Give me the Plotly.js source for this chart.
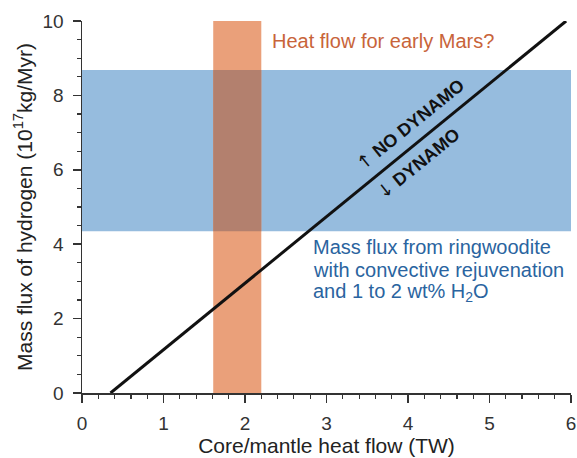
<!DOCTYPE html>
<html>
<head>
<meta charset="utf-8">
<script src="https://cdn.plot.ly/plotly-3.0.1.min.js"></script>
<style>html,body{margin:0;padding:0;background:#fff;}#chart{width:577px;height:458px;}</style>
</head>
<body>
<div id="chart"></div>
<script>
// Threshold line (core/mantle heat flow TW vs. hydrogen mass flux)
const lineX = [0.35, 5.94];
const lineY = [0, 10];
// Blue band: mass flux from ringwoodite (y range)
const massFluxBand = [4.35, 8.68];
// Orange band: heat flow for early Mars (x range)
const heatFlowBand = [1.61, 2.20];
const xRange = [0, 6];
const yRange = [0, 10];
const blueLines = ['Mass flux from ringwoodite', 'with convective rejuvenation', 'and 1 to 2 wt% H<sub>2</sub>O'];
const blueLineY = [3.92, 3.31, 2.69];

const FONT = 'Liberation Sans, Arial, sans-serif';
const ARROW = (a) => '<span style="font-family:DejaVu Sans;font-weight:normal">' + a + '</span>';

const traces = [{
  x: lineX, y: lineY, type: 'scatter', mode: 'lines',
  line: {color: '#111111', width: 3}, hoverinfo: 'skip', showlegend: false
}];

const shapes = [
  {type: 'rect', xref: 'x', yref: 'y', x0: xRange[0], x1: xRange[1],
   y0: massFluxBand[0], y1: massFluxBand[1], fillcolor: '#96BCDE', line: {width: 0}, layer: 'below'},
  {type: 'rect', xref: 'x', yref: 'y', x0: heatFlowBand[0], x1: heatFlowBand[1],
   y0: yRange[0], y1: yRange[1], fillcolor: '#EAA07A', line: {width: 0}, layer: 'below'},
  {type: 'rect', xref: 'x', yref: 'y', x0: heatFlowBand[0], x1: heatFlowBand[1],
   y0: massFluxBand[0], y1: massFluxBand[1], fillcolor: '#B3806E', line: {width: 0}, layer: 'below'}
];

const annotations = [
  {x: 2.31, y: 9.46, xref: 'x', yref: 'y', text: 'Heat flow for early Mars?', showarrow: false,
   xanchor: 'left', yanchor: 'middle', font: {family: FONT, size: 20, color: '#C8643A'}},
  {x: 4.02, y: 7.23, xref: 'x', yref: 'y', text: ARROW('↑') + ' <b>NO DYNAMO</b>', showarrow: false,
   textangle: -39, font: {family: FONT, size: 18, color: '#111111'}},
  {x: 4.12, y: 6.18, xref: 'x', yref: 'y', text: ARROW('↓') + ' <b>DYNAMO</b>', showarrow: false,
   textangle: -39, font: {family: FONT, size: 18, color: '#111111'}}
];
blueLines.forEach((t, i) => annotations.push({
  x: 2.81, y: blueLineY[i], xref: 'x', yref: 'y', text: t, showarrow: false,
  xanchor: 'left', yanchor: 'middle', font: {family: FONT, size: 20, color: '#2A64A0'}
}));

const axisCommon = {
  showgrid: false, zeroline: false, showline: true, linecolor: '#333', linewidth: 1.5,
  ticks: 'outside', ticklen: 8, tickwidth: 1.5, tickcolor: '#333',
  tickfont: {family: FONT, size: 19, color: '#333'}
};

const layout = {
  width: 577, height: 458,
  margin: {l: 82, r: 6, t: 21, b: 65},
  paper_bgcolor: '#fff', plot_bgcolor: '#fff',
  showlegend: false,
  xaxis: Object.assign({}, axisCommon, {
    range: xRange, dtick: 1, tick0: 0, ticklabelstandoff: 5,
    minor: {dtick: 0.2, ticks: 'outside', ticklen: 4, tickwidth: 1.2, tickcolor: '#333'},
    title: {text: 'Core/mantle heat flow (TW)', font: {family: FONT, size: 21, color: '#222'}, standoff: 4}
  }),
  yaxis: Object.assign({}, axisCommon, {
    range: yRange, dtick: 2, tick0: 0, ticklabelstandoff: 5,
    minor: {dtick: 0.5, ticks: 'outside', ticklen: 4, tickwidth: 1.2, tickcolor: '#333'},
    title: {text: 'Mass flux of hydrogen (10<sup>17</sup>kg/Myr)', font: {family: FONT, size: 21, color: '#222'}, standoff: 4}
  }),
  shapes: shapes,
  annotations: annotations
};

Plotly.newPlot('chart', traces, layout, {displayModeBar: false, staticPlot: true});
</script>
</body>
</html>
